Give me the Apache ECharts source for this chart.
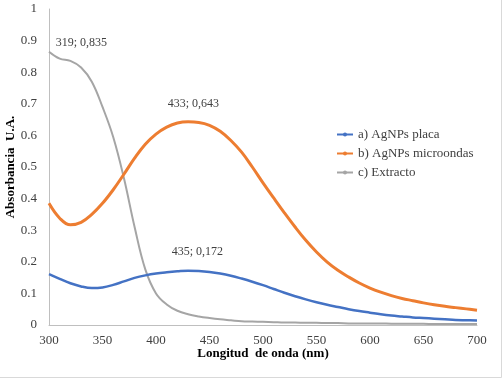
<!DOCTYPE html>
<html>
<head>
<meta charset="utf-8">
<script src="https://cdn.jsdelivr.net/npm/echarts@6/dist/echarts.min.js"></script>
<style>
html,body{margin:0;padding:0;background:#fff;}
#chart{width:503px;height:379px;}
</style>
</head>
<body>
<div id="chart"></div>
<script>
const wavelengths = [300,310,320,330,340,350,360,370,380,390,400,410,420,430,440,450,460,470,480,490,500,510,520,530,540,550,560,570,580,590,600,610,620,630,640,650,660,670,680,690,700];
const placa = [0.161,0.146,0.132,0.122,0.117,0.119,0.127,0.138,0.149,0.157,0.163,0.167,0.170,0.172,0.171,0.168,0.163,0.156,0.147,0.137,0.126,0.114,0.102,0.091,0.081,0.072,0.064,0.057,0.050,0.044,0.039,0.034,0.030,0.027,0.024,0.022,0.020,0.018,0.016,0.015,0.014];
const microondas = [0.385,0.338,0.317,0.325,0.350,0.385,0.428,0.477,0.528,0.572,0.604,0.626,0.639,0.643,0.641,0.632,0.613,0.584,0.547,0.500,0.450,0.402,0.355,0.310,0.268,0.231,0.199,0.173,0.152,0.133,0.117,0.104,0.093,0.084,0.077,0.070,0.064,0.059,0.055,0.051,0.047];
const extracto = [0.865,0.843,0.836,0.815,0.770,0.690,0.595,0.465,0.310,0.176,0.100,0.065,0.045,0.034,0.027,0.022,0.018,0.015,0.012,0.011,0.010,0.009,0.008,0.008,0.007,0.007,0.006,0.006,0.005,0.005,0.005,0.005,0.004,0.004,0.004,0.004,0.003,0.003,0.003,0.003,0.003];
const seriesNames = ['a) AgNPs placa','b) AgNPs microondas','c) Extracto'];
const peaks = [[435,0.172,'435; 0,172'],[433,0.643,'433; 0,643'],[319,0.835,'319; 0,835']];

const chart = echarts.init(document.getElementById('chart'));
const zip = arr => wavelengths.map((w,i)=>[w,arr[i]]);
const serif = '"Liberation Serif","Times New Roman",serif';
function mp(p, off){
  return {
    symbol:'circle', symbolSize:0, silent:true,
    data:[{coord:[p[0],p[1]], value:p[2]}],
    label:{show:true, position:'inside', offset:off, formatter:p[2], color:'#404040', fontFamily:serif, fontSize:12}
  };
}
chart.setOption({
  animation:false,
  backgroundColor:'#fff',
  graphic:[{type:'rect', shape:{x:-2,y:-2,width:503.5,height:379.5}, style:{fill:'none', stroke:'#d9d9d9', lineWidth:1}, silent:true}],
  grid:{left:49, right:26, top:9, bottom:54, containLabel:false, outerBoundsMode:'none'},
  legend:{
    orient:'vertical', left:331, top:123, itemGap:6, itemWidth:16, itemHeight:5,
    textStyle:{fontFamily:serif, fontSize:13, color:'#404040'},
    data:seriesNames
  },
  xAxis:{
    type:'value', min:300, max:700, interval:50,
    name:'Longitud  de onda (nm)', nameLocation:'middle', nameGap:22, nameMoveOverlap:false,
    nameTextStyle:{fontFamily:serif, fontSize:13, fontWeight:'bold', color:'#000'},
    axisLine:{lineStyle:{color:'#bfbfbf'}}, axisTick:{show:false}, splitLine:{show:false},
    axisLabel:{fontFamily:serif, fontSize:13, color:'#404040', margin:9}
  },
  yAxis:{
    type:'value', min:0, max:1, interval:0.1,
    name:'Absorbancia  U.A.', nameLocation:'middle', nameGap:32, nameMoveOverlap:false,
    nameTextStyle:{fontFamily:serif, fontSize:13, fontWeight:'bold', color:'#000'},
    axisLine:{show:true, lineStyle:{color:'#bfbfbf'}}, axisTick:{show:false}, splitLine:{show:false},
    axisLabel:{fontFamily:serif, fontSize:13, color:'#404040', margin:12,
      formatter:v=>(Math.abs(v)<1e-9?'0':(Math.abs(v-1)<1e-9?'1':v.toFixed(1)))}
  },
  series:[
    {name:seriesNames[0], type:'line', smooth:0.4, data:zip(placa), symbol:'circle', symbolSize:4, showSymbol:false,
     itemStyle:{color:'#4472c4'}, lineStyle:{width:2.5, color:'#4472c4'}, markPoint:mp(peaks[0],[4,-19]), z:3},
    {name:seriesNames[1], type:'line', smooth:0.4, data:zip(microondas), symbol:'circle', symbolSize:4, showSymbol:false,
     itemStyle:{color:'#ed7d31'}, lineStyle:{width:3, color:'#ed7d31'}, markPoint:mp(peaks[1],[2,-18]), z:2},
    {name:seriesNames[2], type:'line', smooth:0.4, data:zip(extracto), symbol:'circle', symbolSize:4, showSymbol:false,
     itemStyle:{color:'#a5a5a5'}, lineStyle:{width:2, color:'#a5a5a5'}, markPoint:mp(peaks[2],[12,-18]), z:1}
  ]
});
</script>
</body>
</html>
